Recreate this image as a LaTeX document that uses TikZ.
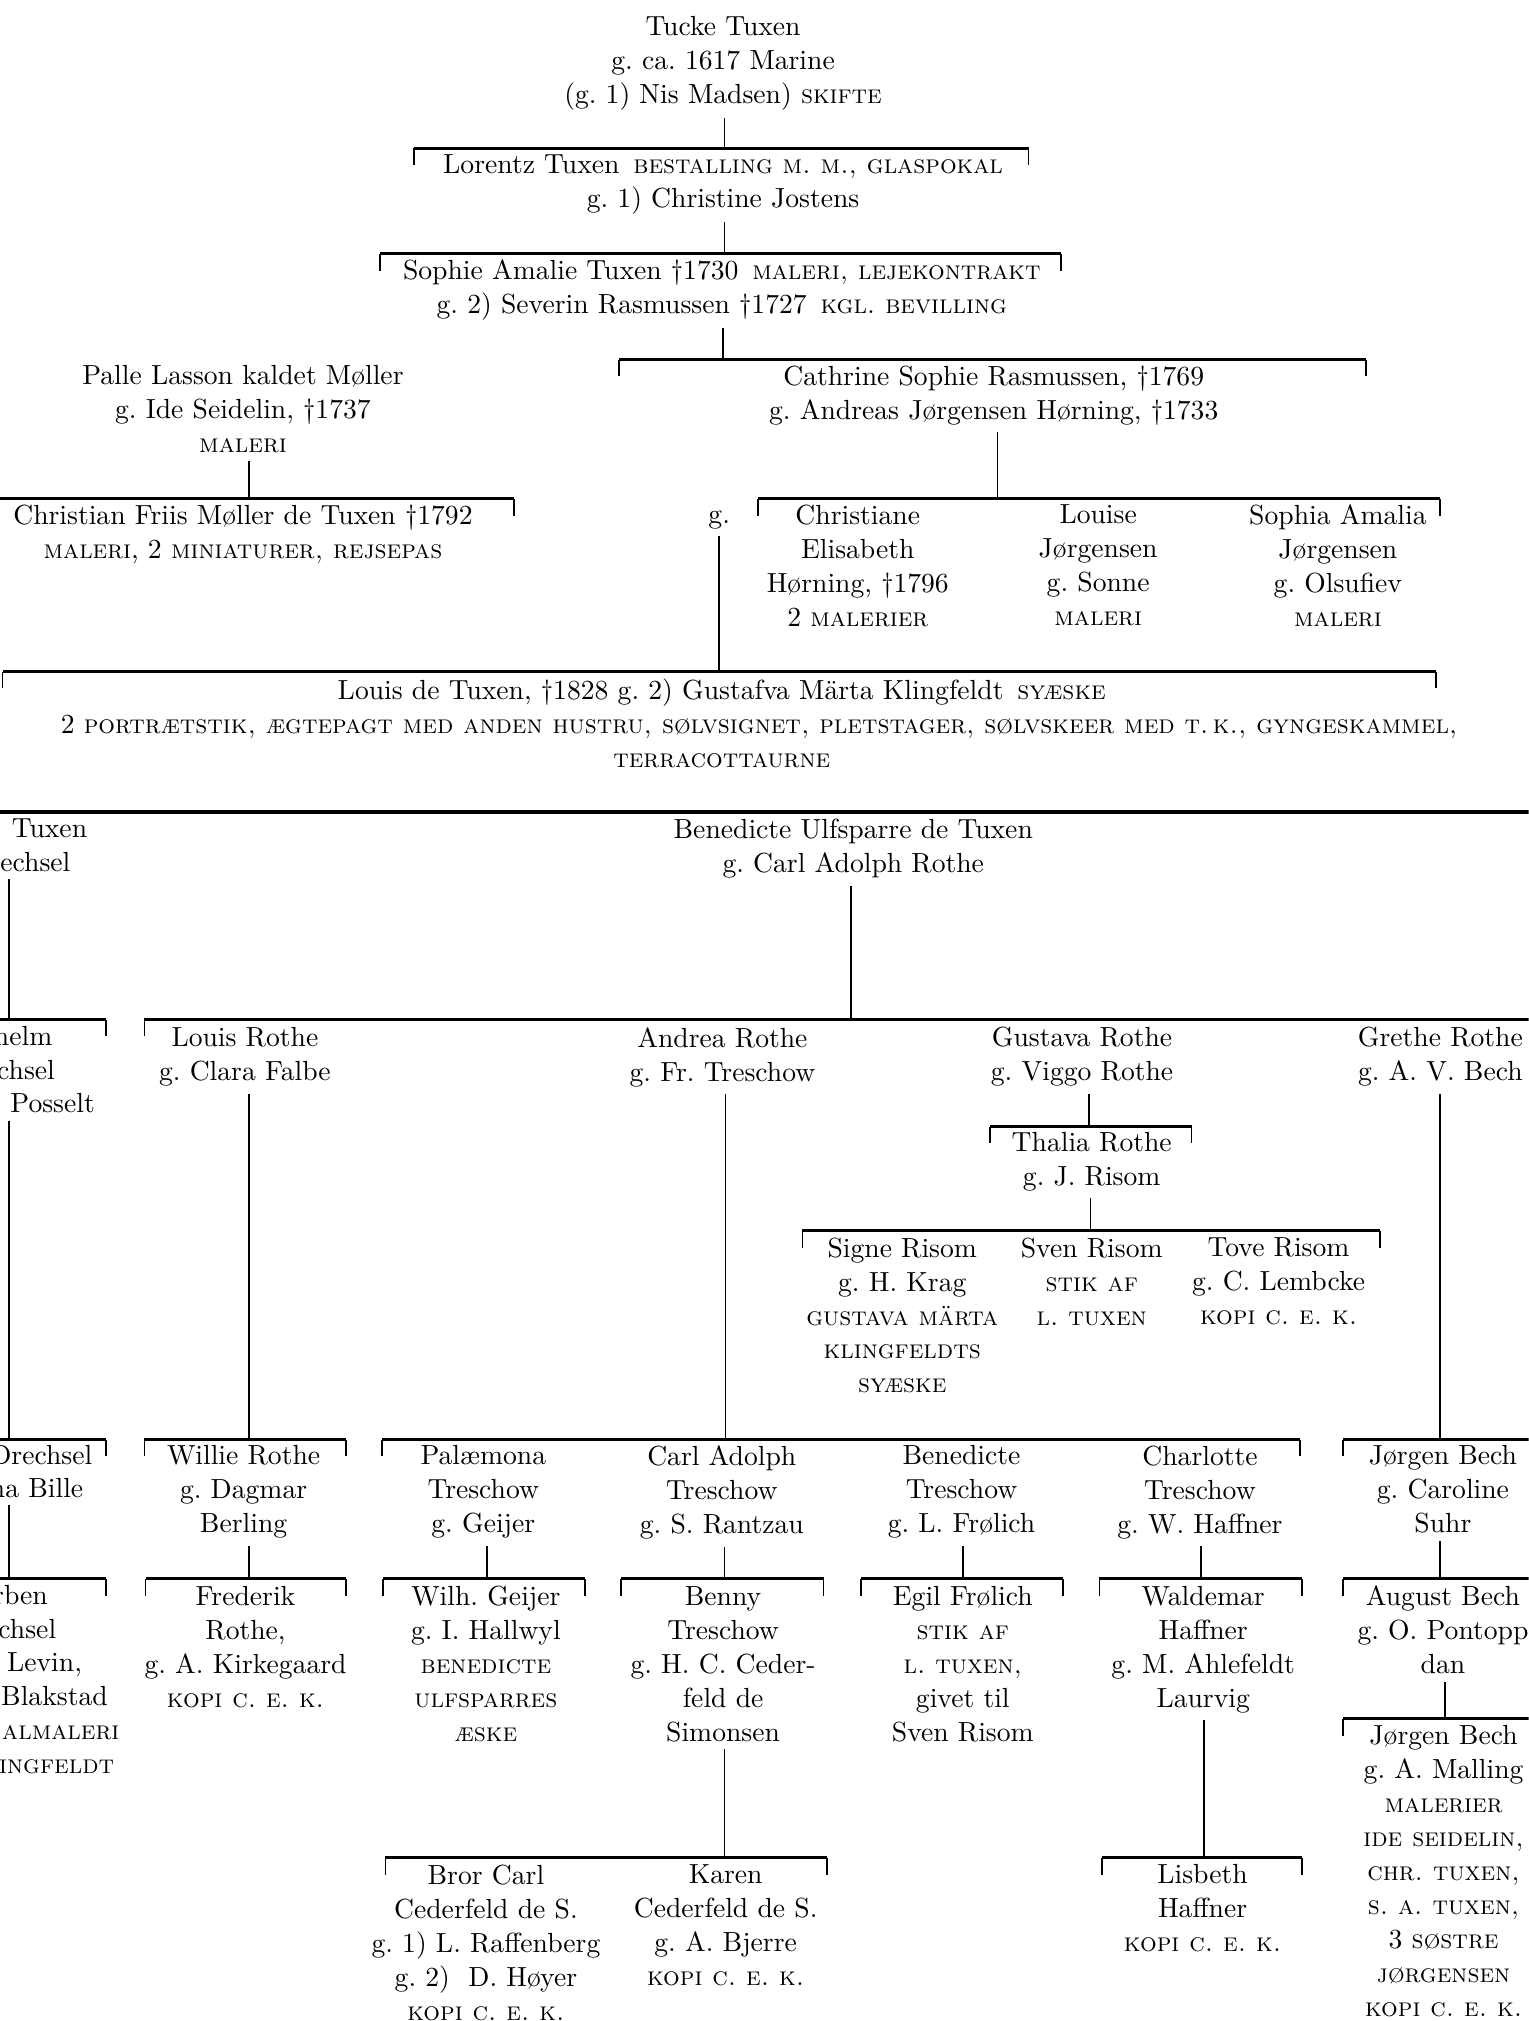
\documentclass[tikz,border=0pt]{standalone}
\usepackage{fontspec}
\frenchspacing
\tikzstyle{txt}=[align=center, inner xsep=0pt, inner ysep=2.5pt, font=\fontsize{10pt}{12.3pt}\selectfont]
\tikzstyle{person}=[txt, anchor=north, yshift=9.4pt]
\tikzstyle{spouse}=[txt, anchor=base]
\tikzstyle{cut}=[txt, anchor=base east]
\tikzstyle{bar}=[line width=1.1pt]
\tikzstyle{tick}=[line width=0.6pt]
\tikzstyle{link}=[line width=0.6pt]
\newcommand{\smc}[1]{{\fontsize{9.5pt}{12.3pt}\selectfont\scshape #1}}
\newcommand{\famrule}[5]{%
  \coordinate (#1) at (#5,#4);
  \draw[bar] (#2,#4) -- (#3,#4);
  \draw[tick] (#2,#4) -- ++(0,13);
  \draw[tick] (#3,#4) -- ++(0,13);}

\begin{document}
\begin{tikzpicture}[x=0.4664pt,y=-0.4664pt]
  \fill[white] (0,0) rectangle (1186,1568);
  \useasboundingbox (0,0) rectangle (1186,1568);
  \clip (0,0) rectangle (1186,1568);

  %% Tuxen line
  \draw (561,27) node[person] (tucke) {Tucke Tuxen\\g. ca. 1617 Marine\\(g. 1) Nis Madsen) \smc{skifte}};
  \famrule{r1}{321}{798}{115}{562}
  \draw (561,134.5) node[person] (lorentz) {Lorentz Tuxen\enspace\smc{bestalling m. m., glaspokal}\\g. 1) Christine Jostens};
  \famrule{r2}{295}{823}{197}{562}
  \draw (560,216) node[person] (sophie) {Sophie Amalie Tuxen †1730\enspace\smc{maleri, lejekontrakt}\\g. 2) Severin Rasmussen †1727\enspace\smc{kgl. bevilling}};
  \famrule{r3}{480}{1060}{279}{561}

  \draw (188.5,298) node[person] (palle) {Palle Lasson kaldet Møller\\g. Ide Seidelin, †1737\\\smc{maleri}};
  \draw (771,298) node[person] (cathrine) {Cathrine Sophie Rasmussen, †1769\\g. Andreas Jørgensen Hørning, †1733};
  \famrule{r4}{-10}{399}{387}{193}
  \famrule{r5}{588}{1117}{387}{774}

  \draw (188.5,406) node[person] (christian) {Christian Friis Møller de Tuxen †1792\\\smc{maleri}, 2 \smc{miniaturer, rejsepas}};
  \draw (558,406) node[spouse] (gmark) {g.};
  \draw (665.5,406) node[person] (christiane) {Christiane\\Elisabeth\\Hørning, †1796\\2 \smc{malerier}};
  \draw (852,406) node[person] (louise) {Louise\\Jørgensen\\g. Sonne\\\smc{maleri}};
  \draw (1038,406) node[person] (sophia) {Sophia Amalia\\Jørgensen\\g. Olsufiev\\\smc{maleri}};
  \famrule{r6}{2}{1114}{521}{558}

  \draw (560,541) node[person] (louis) {Louis de Tuxen, †1828 g. 2) Gustafva Märta Klingfeldt\enspace\smc{syæske}\\\hspace*{27pt}2 \smc{portrætstik, ægtepagt med anden hustru, sølvsignet, pletstager, sølvskeer med t.\,k., gyngeskammel,}\\\smc{terracottaurne}};

  %% Next page
  \draw[bar] (0,630) -- (1186,630);
  \draw (68,650) node[cut] (cutA1) {Tuxen};
  \draw (55,676) node[cut] (cutA2) {echsel};
  \draw (662,650) node[person] (benedicte) {Benedicte Ulfsparre de Tuxen\\g. Carl Adolph Rothe};
  \famrule{r7a}{-10}{82}{791}{7}
  \famrule{r7b}{112}{1196}{791}{660}

  \draw (41,811.5) node[cut] (cutB1) {helm};
  \draw (43,837.5) node[cut] (cutB2) {chsel};
  \draw (74,863.5) node[cut] (cutB3) {Posselt};
  \draw (190,811.5) node[person] (louisR) {Louis Rothe\\g. Clara Falbe};
  \draw (560.5,811.5) node[person] (andrea) {Andrea Rothe\\g. Fr. Treschow};
  \draw (839.5,811.5) node[person] (gustava) {Gustava Rothe\\g. Viggo Rothe};
  \draw (1117.5,811.5) node[person] (grethe) {Grethe Rothe\\g. A. V. Bech};

  %% Risom branch
  \famrule{rG}{768}{924.5}{874}{845}
  \draw (847,892.5) node[person] (thalia) {Thalia Rothe\\g. J. Risom};
  \famrule{rT}{622.6}{1070.5}{955}{846}
  \draw (700,974.5) node[person] (signe) {Signe Risom\\g. H. Krag\\\smc{gustava märta}\\\smc{klingfeldts}\\\smc{syæske}};
  \draw (847,974.5) node[person] (sven) {Sven Risom\\\smc{stik af}\\\smc{l. tuxen}};
  \draw (992,974.5) node[person] (tove) {Tove Risom\\g. C. Lembcke\\\smc{kopi c. e. k.}};

  \famrule{r8a}{-10}{82}{1117}{7}
  \famrule{r8b}{112}{268.6}{1117}{193}
  \famrule{r8c}{296.5}{1008.4}{1117}{563}
  \famrule{r8d}{1042}{1196}{1117}{1117}

  \draw (72,1136) node[cut] (cutC1) {Drechsel};
  \draw (65,1162) node[cut] (cutC2) {na Bille};
  \draw (189,1136) node[person] (willie) {Willie Rothe\\g. Dagmar\\Berling};
  \draw (375,1136) node[person] (palaemona) {Palæmona\\Treschow\\g. Geijer};
  \draw (560,1136) node[person] (carlA) {Carl Adolph\\Treschow\\g. S. Rantzau};
  \draw (746,1136) node[person] (benedicteT) {Benedicte\\Treschow\\g. L. Frølich};
  \draw (931,1136) node[person] (charlotte) {Charlotte\\Treschow\\g. W. Haffner};
  \draw (1119.5,1136) node[person] (jorgen) {Jørgen Bech\\g. Caroline\\Suhr};

  \famrule{r9a}{-10}{82}{1225}{7}
  \famrule{r9b}{113}{268.6}{1225}{193}
  \famrule{r9c}{297}{454}{1225}{378}
  \famrule{r9d}{482}{639}{1225}{562}
  \famrule{r9e}{668}{824.6}{1225}{747}
  \famrule{r9f}{853}{1010}{1225}{932}
  \famrule{r9g}{1042}{1196}{1225}{1117}

  \draw (37.5,1245) node[cut] (cutD1) {rben};
  \draw (44,1271) node[cut] (cutD2) {chsel};
  \draw (64,1297) node[cut] (cutD3) {Levin,};
  \draw (84,1323) node[cut] (cutD4) {Blakstad};
  \draw (93,1349.5) node[cut] (cutD5) {\smc{almaleri}};
  \draw (89,1376) node[cut] (cutD6) {\smc{ingfeldt}};
  \draw (190.5,1245) node[person] (frederik) {Frederik\\Rothe,\\g. A. Kirkegaard\\\smc{kopi c. e. k.}};
  \draw (377,1245) node[person] (wilh) {Wilh. Geijer\\g. I. Hallwyl\\\smc{benedicte}\\\smc{ulfsparres}\\\smc{æske}};
  \draw (561,1245) node[person] (benny) {Benny\\Treschow\\g. H. C. Ceder-\\feld de\\Simonsen};
  \draw (747,1245) node[person] (egil) {Egil Frølich\\\smc{stik af}\\\smc{l. tuxen,}\\givet til\\Sven Risom};
  \draw (933.5,1245) node[person] (waldemar) {Waldemar\\Haffner\\g. M. Ahlefeldt\\Laurvig};
  \draw (1119.5,1245) node[person] (august) {August Bech\\g. O. Pontopp\\dan};

  \famrule{r10}{1042}{1196}{1333.5}{1121}
  \draw (1120,1353) node[person] (jorgenB) {Jørgen Bech\\g. A. Malling\\\smc{malerier}\\\smc{ide seidelin,}\\\smc{chr. tuxen,}\\\smc{s. a. tuxen,}\\3 \smc{søstre}\\\smc{jørgensen}\\\smc{kopi c. e. k.}};

  \famrule{r11a}{299}{641.5}{1441.5}{562}
  \famrule{r11b}{855}{1010}{1441.5}{934}
  \draw (377,1461) node[person] (bror) {Bror Carl\\Cederfeld de S.\\g. 1) L. Raffenberg\\g. 2)\ \ D. Høyer\\\smc{kopi c. e. k.}};
  \draw (563,1461) node[person] (karen) {Karen\\Cederfeld de S.\\g. A. Bjerre\\\smc{kopi c. e. k.}};
  \draw (933,1461) node[person] (lisbeth) {Lisbeth\\Haffner\\\smc{kopi c. e. k.}};

  %% Descent lines
  \draw[link] (tucke.south -| r1) -- (r1);
  \draw[link] (lorentz.south -| r2) -- (r2);
  \draw[link] (sophie.south -| r3) -- (r3);
  \draw[link] (palle.south -| r4) -- (r4);
  \draw[link] (cathrine.south -| r5) -- (r5);
  \draw[link] (gmark.south -| r6) -- (r6);
  \draw[link] (cutA2.south -| r7a) -- (r7a);
  \draw[link] (benedicte.south -| r7b) -- (r7b);
  \draw[link] (cutB3.south -| r8a) -- (r8a);
  \draw[link] (louisR.south -| r8b) -- (r8b);
  \draw[link] (andrea.south -| r8c) -- (r8c);
  \draw[link] (gustava.south -| rG) -- (rG);
  \draw[link] (thalia.south -| rT) -- (rT);
  \draw[link] (grethe.south -| r8d) -- (r8d);
  \draw[link] (cutC2.south -| r9a) -- (r9a);
  \draw[link] (willie.south -| r9b) -- (r9b);
  \draw[link] (palaemona.south -| r9c) -- (r9c);
  \draw[link] (carlA.south -| r9d) -- (r9d);
  \draw[link] (benedicteT.south -| r9e) -- (r9e);
  \draw[link] (charlotte.south -| r9f) -- (r9f);
  \draw[link] (jorgen.south -| r9g) -- (r9g);
  \draw[link] (august.south -| r10) -- (r10);
  \draw[link] (benny.south -| r11a) -- (r11a);
  \draw[link] (waldemar.south -| r11b) -- (r11b);
\end{tikzpicture}
\end{document}
